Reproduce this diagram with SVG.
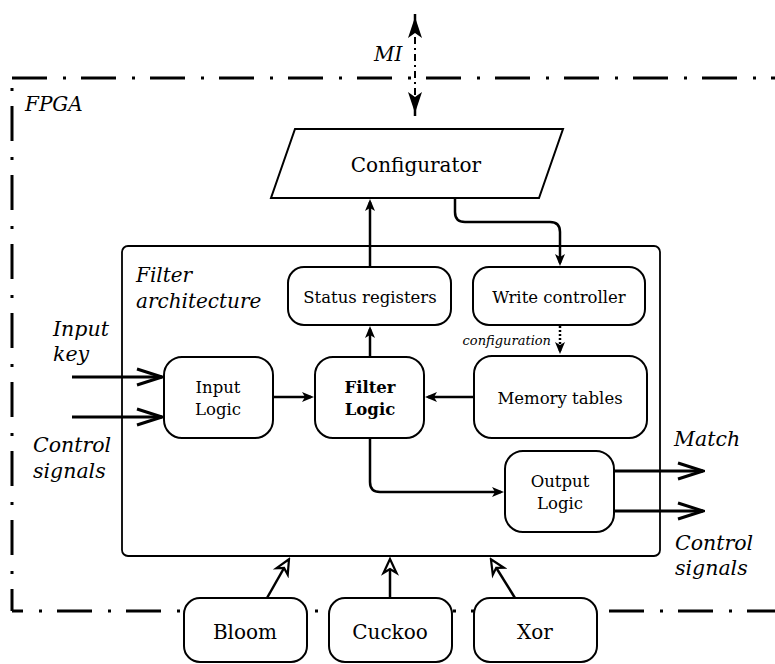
<svg xmlns="http://www.w3.org/2000/svg" width="775" height="664" viewBox="0 0 775 664">
<style>
.node rect,.node path{fill:#fff;stroke:#000;stroke-width:2}
.t{font-family:"DejaVu Serif","Liberation Serif",serif;font-size:16.5px;fill:#000;text-anchor:middle}
.b{font-weight:bold}
.big{font-size:20px}
.it{font-family:"DejaVu Serif","Liberation Serif",serif;font-style:italic;font-size:20px;fill:#000}
.c{fill:none;stroke:#000;stroke-width:2.5}
.fpga{fill:none;stroke:#000;stroke-width:3;stroke-dasharray:35 16 3 15}
</style>
<defs>
<marker id="arr" viewBox="-10 -6 14 12" refX="0" refY="0" markerWidth="14" markerHeight="12" markerUnits="userSpaceOnUse" orient="auto">
<path d="M3,0 L-9,-5 L-6,0 L-9,5Z" fill="#000"/>
</marker>
<marker id="mi" viewBox="-20 -8 24 16" refX="0" refY="0" markerWidth="24" markerHeight="16" markerUnits="userSpaceOnUse" orient="auto-start-reverse">
<path d="M3,0 L-18,-7 L-13,0 L-18,7Z" fill="#000"/>
</marker>
<marker id="open" viewBox="-28 -10 30 20" refX="0" refY="0" markerWidth="30" markerHeight="20" markerUnits="userSpaceOnUse" orient="auto">
<path d="M-25,-8 L0,0 L-25,8" fill="none" stroke="#000" stroke-width="3"/>
</marker>
<marker id="hollow" viewBox="-16 -9 20 18" refX="0" refY="0" markerWidth="20" markerHeight="18" markerUnits="userSpaceOnUse" orient="auto">
<path d="M2,0 L-12,-6.5 L-8,0 L-12,6.5Z" fill="#fff" stroke="#000" stroke-width="2.2" stroke-linejoin="miter"/>
</marker>
</defs>
<rect width="775" height="664" fill="#fff"/>

<g id="fpga">
<path class="fpga" d="M12,78 H775"/>
<path class="fpga" d="M12,78 V611" style="stroke-dashoffset:41"/>
<path class="fpga" d="M12,611 H775" style="stroke-dashoffset:24"/>
<text class="it" x="25" y="111">FPGA</text>
</g>

<g id="filter-architecture">
<rect x="122" y="246" width="538" height="310" rx="6" fill="#fff" stroke="#000" stroke-width="1.8"/>
<text class="it" x="136" y="282">Filter</text>
<text class="it" x="136" y="308">architecture</text>
</g>

<g id="configurator" class="node">
<path d="M295,129 H563 L539,198 H271 Z"/>
<text class="t big" x="416" y="172">Configurator</text>
</g>
<g id="status-registers" class="node">
<rect x="288" y="267" width="163" height="58" rx="16"/>
<text class="t" x="370" y="303">Status registers</text>
</g>
<g id="write-controller" class="node">
<rect x="473" y="267" width="172" height="58" rx="16"/>
<text class="t" x="559" y="303">Write controller</text>
</g>
<g id="input-logic" class="node">
<rect x="164" y="357" width="109" height="81" rx="18"/>
<text class="t" x="218" y="393">Input</text>
<text class="t" x="218" y="415">Logic</text>
</g>
<g id="filter-logic" class="node">
<rect x="315" y="357" width="109" height="81" rx="18"/>
<text class="t b" x="370" y="393">Filter</text>
<text class="t b" x="370" y="415">Logic</text>
</g>
<g id="memory-tables" class="node">
<rect x="474" y="356" width="173" height="82" rx="18"/>
<text class="t" x="560" y="404">Memory tables</text>
</g>
<g id="output-logic" class="node">
<rect x="505" y="451" width="109" height="81" rx="18"/>
<text class="t" x="560" y="487">Output</text>
<text class="t" x="560" y="509">Logic</text>
</g>
<g id="bloom" class="node">
<rect x="184" y="598" width="123" height="64" rx="16"/>
<text class="t big" x="245" y="639">Bloom</text>
</g>
<g id="cuckoo" class="node">
<rect x="329" y="598" width="123" height="64" rx="16"/>
<text class="t big" x="390" y="639">Cuckoo</text>
</g>
<g id="xor" class="node">
<rect x="474" y="598" width="123" height="64" rx="16"/>
<text class="t big" x="535" y="639">Xor</text>
</g>

<g id="connectors">
<path d="M415,20 V110" fill="none" stroke="#000" stroke-width="2" stroke-dasharray="7 4 2 4" marker-start="url(#mi)" marker-end="url(#mi)"/>
<path d="M415,14 V24" stroke="#000" stroke-width="2.5"/>
<path d="M415,106 V116" stroke="#000" stroke-width="2.5"/>
<text class="it" x="374" y="61">MI</text>

<path class="c" d="M370,267 V202" marker-end="url(#arr)"/>
<path class="c" d="M455,198 V212 Q455,222 465,222 H550 Q560,222 560,232 V263" marker-end="url(#arr)"/>
<path class="c" d="M370,357 V329" marker-end="url(#arr)"/>
<path class="c" d="M273,397 H311" marker-end="url(#arr)"/>
<path class="c" d="M474,397 H428" marker-end="url(#arr)"/>
<path class="c" d="M370,438 V482 Q370,492 380,492 H501" marker-end="url(#arr)"/>
<path d="M560,326 V351" fill="none" stroke="#000" stroke-width="2.5" stroke-dasharray="2 2" marker-end="url(#arr)"/>
<text class="it" x="551" y="345" style="font-size:13px;text-anchor:end">configuration</text>

<path class="c" d="M72,377 H162" style="stroke-width:3" marker-end="url(#open)"/>
<path class="c" d="M72,417 H162" style="stroke-width:3" marker-end="url(#open)"/>
<text class="it" x="53" y="336" style="font-size:20.5px">Input</text>
<text class="it" x="53" y="361" style="font-size:20.5px">key</text>
<text class="it" x="33" y="452" style="font-size:20.5px">Control</text>
<text class="it" x="33" y="478" style="font-size:20.5px">signals</text>

<path class="c" d="M614,471 H703" style="stroke-width:3" marker-end="url(#open)"/>
<path class="c" d="M614,511 H703" style="stroke-width:3" marker-end="url(#open)"/>
<text class="it" x="674" y="446" style="font-size:20.5px">Match</text>
<text class="it" x="675" y="550" style="font-size:20.5px">Control</text>
<text class="it" x="675" y="575" style="font-size:20.5px">signals</text>

<path class="c" d="M267,598 L288,561" marker-end="url(#hollow)"/>
<path class="c" d="M390,598 V561" marker-end="url(#hollow)"/>
<path class="c" d="M515,598 L492,561" marker-end="url(#hollow)"/>
</g>
</svg>
